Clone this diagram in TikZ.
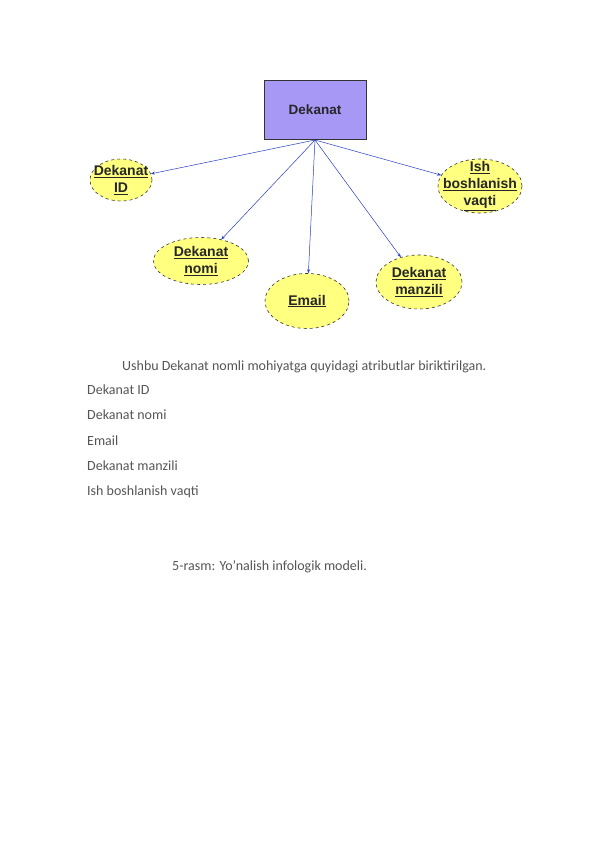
\documentclass[tikz,border=0pt]{standalone}
\usepackage{fontspec}
\setmainfont{Carlito}
\newfontfamily\arialf{Liberation Sans}
\usetikzlibrary{shapes.geometric,arrows.meta}
\definecolor{boxfill}{RGB}{168,152,245}
\definecolor{ellfill}{RGB}{255,255,128}
\definecolor{linkblue}{RGB}{40,60,200}
\definecolor{bodytext}{RGB}{85,85,85}
\tikzset{
  entity/.style={draw=black!80, fill=boxfill, line width=0.6pt, minimum width=102pt, minimum height=59pt, inner sep=0pt, font=\arialf\bfseries\fontsize{13.5}{16}\selectfont, text=black!85},
  attr/.style={ellipse, draw=black!80, fill=ellfill, dashed, line width=0.6pt, inner sep=0pt},
  attrtext/.style={inner sep=0pt, align=center, font=\arialf\bfseries\fontsize{14}{17}\selectfont, text=black!85},
  link/.style={draw=linkblue, line width=0.5pt, -{Stealth[length=4pt,width=3pt]}},
  body/.style={anchor=west, inner sep=0pt, font=\fontsize{14}{16}\selectfont, text=bodytext}
}
\newcommand{\ul}[1]{\underline{#1}}
\begin{document}
\begin{tikzpicture}[x=1pt,y=-1pt]
\useasboundingbox (0,0) rectangle (595,842);
\node[entity] (dek) at (315,109.5) {Dekanat};
\coordinate (src) at (315,140);
\node[attr, minimum width=62pt, minimum height=42pt] (id) at (121,180) {};
\node[attrtext] (idt) at (id.center) {\ul{Dekanat}\\\ul{ID}};
\node[attr, minimum width=84pt, minimum height=54pt] (ish) at (480,186) {};
\node[attrtext] (isht) at (ish.center) {\ul{Ish}\\\ul{boshlanish}\\\ul{vaqti}};
\node[attr, minimum width=95pt, minimum height=47pt] (nomi) at (201,261) {};
\node[attrtext] (nomit) at (nomi.center) {\ul{Dekanat}\\\ul{nomi}};
\node[attr, minimum width=84pt, minimum height=55pt] (email) at (307,301) {};
\node[attrtext] (emailt) at (email.center) {\ul{Email}};
\node[attr, minimum width=86pt, minimum height=54pt] (manz) at (419,282) {};
\node[attrtext] (manzt) at (manz.center) {\ul{Dekanat}\\\ul{manzili}};
\draw[link] (src) -- (id);
\draw[link] (src) -- (ish);
\draw[link] (src) -- (nomi);
\draw[link] (src) -- (email);
\draw[link] (src) -- (manz);
\node[body] (t0) at (122,367) {Ushbu Dekanat nomli mohiyatga quyidagi atributlar biriktirilgan.};
\node[body] (t1) at (87,390) {Dekanat ID};
\node[body] (t2) at (87,415) {Dekanat nomi};
\node[body] (t3) at (87,441) {Email};
\node[body] (t4) at (87,466) {Dekanat manzili};
\node[body] (t5) at (87,492) {Ish boshlanish vaqti};
\node[body] (cap) at (172,567) {5-rasm: Yo’nalish infologik modeli.};
\end{tikzpicture}
\end{document}
